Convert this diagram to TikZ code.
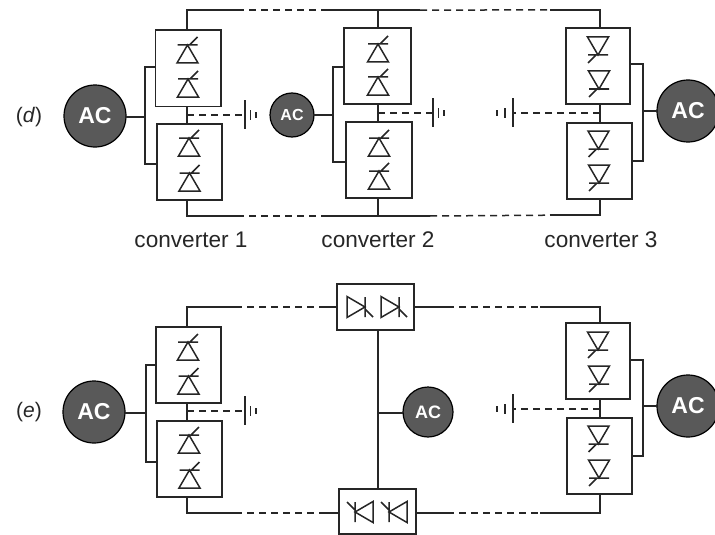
\documentclass[tikz,border=0pt]{standalone}
\usepackage{fontspec}
\setmainfont{Liberation Sans}
\tikzset{
  x=1pt,y=-1pt,
  wire/.style={line width=1.5pt,draw=black!85},
  dash wire/.style={wire,dash pattern=on 7pt off 5pt},
  convbox/.style={draw=black!85,line width=1.5pt,rectangle,minimum width=#1,inner sep=0pt,outer sep=0pt,fill=none},
  convbox/.default=65pt,
  acbig/.style={circle,draw=black,line width=1.2pt,fill=black!65,text=white,minimum size=62pt,inner sep=0pt,outer sep=0pt,font=\fontsize{23}{23}\selectfont\bfseries},
  acsmall/.style={circle,draw=black,line width=1.2pt,fill=black!65,text=white,minimum size=#1,inner sep=0pt,outer sep=0pt,font=\fontsize{16}{16}\selectfont\bfseries},
  lab/.style={font=\fontsize{22.6}{22.6}\selectfont,text=black!85,inner sep=0pt},
  tag/.style={font=\fontsize{21}{21}\selectfont,text=black!85,inner sep=0pt},
  thy/.pic={
    \draw[wire,line join=miter] (0,0) -- (-10.5,18) -- (10.5,18) -- cycle;
    \draw[wire] (-10,0) -- (10,0) (2,0) -- (10,-8);
  }
}
\newcommand{\gndR}[3]{% x y: ground opening rightwards
  \draw[wire] (#1,#2-15) -- (#1,#2+14) (#1+5.5,#2-5) -- (#1+5.5,#2+5) (#1+11,#2-3) -- (#1+11,#2+3);
}
\newcommand{\gndL}[3]{%
  \draw[wire] (#1,#2-15) -- (#1,#2+14) (#1-8,#2-5) -- (#1-8,#2+5) (#1-16,#2-3) -- (#1-16,#2+3);
}
\begin{document}
\begin{tikzpicture}
\useasboundingbox (0,0) rectangle (715,535);

% ---------- row d ----------
\node[tag] (ld) at (29,117) {(\textit{d})};
\node[lab] (c1) at (191,240) {converter 1};
\node[lab] (c2) at (378,240) {converter 2};
\node[lab] (c3) at (601,240) {converter 3};

\node[acbig] (ac1) at (95,116) {AC};
\node[acsmall=44pt] (ac2) at (292,115) {AC};
\node[acbig] (ac3) at (688,111) {AC};

\node[convbox=65.4pt,minimum height=76.4pt] (a1) at (188.2,68.2) {};
\node[convbox,minimum height=76pt] (a2) at (189.5,162) {};
\node[convbox=67pt,minimum height=76pt] (b1) at (377.5,66) {};
\node[convbox=66pt,minimum height=76pt] (b2) at (379,160) {};
\node[convbox=64pt,minimum height=76pt] (d1) at (598,66) {};
\node[convbox=65pt,minimum height=76pt] (d2) at (599.5,161) {};

\foreach \x/\y/\r in {187.5/45/0,188/79/0,189/138/0,189.5/173/0,
                      378/44/0,378/77/0,379/138/0,379/171/0,
                      598/55/180,599/89/180,598.5/149/180,599/183/180}
  \pic[rotate=\r] at (\x,\y) {thy};

% converter buses d
\coordinate (bus1a) at (145,67);
\coordinate (bus1b) at (145,164);
\coordinate (bus1m) at (145,117);
\draw[wire] (a1.west |- bus1a) -- (bus1a) -- (bus1b) -- (a2.west |- bus1b);
\draw[wire] (ac1.east |- bus1m) -- (bus1m);
\coordinate (bus2a) at (333,67);
\coordinate (bus2b) at (333,162);
\coordinate (bus2m) at (333,115);
\draw[wire] (b1.west |- bus2a) -- (bus2a) -- (bus2b) -- (b2.west |- bus2b);
\draw[wire] (ac2.east) -- (bus2m);
\coordinate (bus3a) at (643,64);
\coordinate (bus3b) at (643,161);
\coordinate (bus3m) at (643,111);
\draw[wire] (d1.east |- bus3a) -- (bus3a) -- (bus3b) -- (d2.east |- bus3b);
\draw[wire] (ac3.west) -- (bus3m);

% stems d
\coordinate (m1) at (187,115);
\coordinate (m2) at (378,113);
\coordinate (m3) at (600,113);
\draw[wire] (m1 |- a1.south) -- (m1 |- a2.north);
\draw[wire] (m2 |- b1.south) -- (m2 |- b2.north);
\draw[wire] (m3 |- d1.south) -- (m3 |- d2.north);

% grounds d
\coordinate (g1) at (245,115);
\coordinate (g2) at (433,113);
\coordinate (g3) at (513,113);
\draw[dash wire] (m1) -- (g1);
\draw[dash wire] (m2) -- (g2);
\draw[dash wire] (m3) -- (g3);
\gndR{245}{115}{}
\gndR{433}{113}{}
\gndL{513}{113}{}

% top and bottom rails d
\coordinate (t1) at (187,10.2);
\coordinate (t1b) at (237,10.2);
\coordinate (t2a) at (325,10.2);
\coordinate (t2) at (378,10.2);
\coordinate (t2b) at (420,10.2);
\coordinate (t3a) at (550,9.8);
\coordinate (t3) at (600,9.8);
\draw[wire] (a1.north -| t1) -- (t1) -- (t1b);
\draw[dash wire] (t1b) -- (t2a);
\draw[wire] (t2a) -- (t2b) (t2) -- (b1.north -| t2);
\draw[dash wire] (t2b) -- (t3a);
\draw[wire] (t3a) -- (t3) -- (d1.north -| t3);
\coordinate (u1) at (187,216);
\coordinate (u1b) at (237,216);
\coordinate (u2a) at (325,216);
\coordinate (u2) at (378,216);
\coordinate (u2b) at (430,216);
\coordinate (u3a) at (550,215.2);
\coordinate (u3) at (600,215.2);
\draw[wire] (a2.south -| u1) -- (u1) -- (u1b);
\draw[dash wire] (u1b) -- (u2a);
\draw[wire] (u2a) -- (u2b) (u2) -- (b2.south -| u2);
\draw[dash wire] (u2b) -- (u3a);
\draw[wire] (u3a) -- (u3) -- (d2.south -| u3);

% ---------- row e ----------
\node[tag] (le) at (29,412) {(\textit{e})};
\node[acbig] (ac4) at (94,412) {AC};
\node[acsmall=50pt,font=\fontsize{18}{18}\selectfont\bfseries] (ac5) at (428,412) {AC};
\node[acbig] (ac6) at (688,406) {AC};

\node[convbox,minimum height=76pt] (e1) at (188.5,365) {};
\node[convbox,minimum height=76pt] (e2) at (189.5,459) {};
\node[convbox=64pt,minimum height=76pt] (f1) at (598,361) {};
\node[convbox=65pt,minimum height=76pt] (f2) at (599.5,456) {};
\node[convbox=77pt,minimum height=46pt] (tb) at (375.5,307) {};
\node[convbox=77pt,minimum height=45pt] (bb) at (377.5,511.5) {};

\foreach \x/\y/\r in {188/342/0,188.5/376/0,189/435/0,189.5/470/0,
                      598/350/180,599/384/180,598.5/444/180,599/478/180,
                      365/307/-90,399/307/-90,355/512/90,389/512/90}
  \pic[rotate=\r] at (\x,\y) {thy};

\coordinate (bus4a) at (146,365);
\coordinate (bus4b) at (146,462);
\coordinate (bus4m) at (146,413);
\draw[wire] (e1.west |- bus4a) -- (bus4a) -- (bus4b) -- (e2.west |- bus4b);
\draw[wire] (ac4.east |- bus4m) -- (bus4m);
\coordinate (bus6a) at (643,360);
\coordinate (bus6b) at (643,456);
\coordinate (bus6m) at (643,406);
\draw[wire] (f1.east |- bus6a) -- (bus6a) -- (bus6b) -- (f2.east |- bus6b);
\draw[wire] (ac6.west) -- (bus6m);

\coordinate (m4) at (187,411);
\coordinate (m6) at (600,409);
\draw[wire] (m4 |- e1.south) -- (m4 |- e2.north);
\draw[wire] (m6 |- f1.south) -- (m6 |- f2.north);
\coordinate (g4) at (245,411);
\coordinate (g6) at (513,409);
\draw[dash wire] (m4) -- (g4);
\draw[dash wire] (m6) -- (g6);
\gndR{245}{411}{}
\gndL{513}{409}{}

% centre column
\coordinate (cc) at (378,413);
\draw[wire] (tb.south -| cc) -- (bb.north -| cc);
\draw[wire] (cc) -- (ac5.west |- cc);

% rails e
\coordinate (r1) at (187,307);
\coordinate (r1b) at (235,307);
\coordinate (r2a) at (320,307);
\coordinate (r2b) at (447,307);
\coordinate (r3a) at (540,307);
\coordinate (r3) at (600,307);
\draw[wire] (e1.north -| r1) -- (r1) -- (r1b);
\draw[dash wire] (r1b) -- (r2a);
\draw[wire] (r2a) -- (tb.west |- r2a) (tb.east |- r2b) -- (r2b);
\draw[dash wire] (r2b) -- (r3a);
\draw[wire] (r3a) -- (r3) -- (f1.north -| r3);
\coordinate (s1) at (187,513);
\coordinate (s1b) at (235,513);
\coordinate (s2a) at (322,513);
\coordinate (s2b) at (447,513);
\coordinate (s3a) at (540,513);
\coordinate (s3) at (600,513);
\draw[wire] (e2.south -| s1) -- (s1) -- (s1b);
\draw[dash wire] (s1b) -- (s2a);
\draw[wire] (s2a) -- (bb.west |- s2a) (bb.east |- s2b) -- (s2b);
\draw[dash wire] (s2b) -- (s3a);
\draw[wire] (s3a) -- (s3) -- (f2.south -| s3);
\end{tikzpicture}
\end{document}
